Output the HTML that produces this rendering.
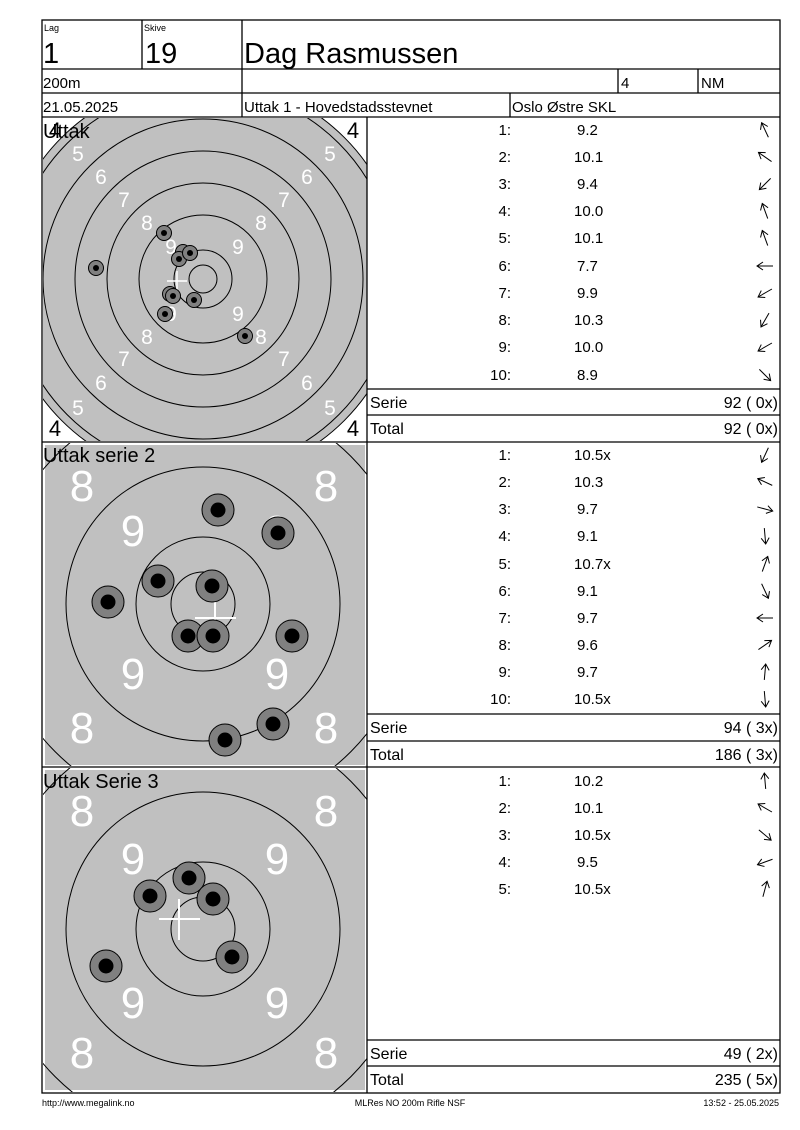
<!DOCTYPE html>
<html><head><meta charset="utf-8"><style>
html,body{margin:0;padding:0;background:#fff}
svg{display:block}
text{font-family:"Liberation Sans",Arial,sans-serif}
</style></head><body>
<svg width="800" height="1130" viewBox="0 0 800 1130" xmlns="http://www.w3.org/2000/svg">
<defs>
<clipPath id="c1"><rect x="43" y="118" width="324" height="323"/></clipPath>
<clipPath id="c2"><rect x="43" y="443" width="324" height="323"/></clipPath>
<clipPath id="c3"><rect x="43" y="768" width="324" height="324"/></clipPath>
<g id="ar"><line x1="-8" y1="0" x2="8" y2="0"/><polyline points="2,-4 8,0 2,4"/></g>
</defs>
<!-- Target 1 -->
<g clip-path="url(#c1)">
<circle cx="203" cy="279" r="200" fill="#c0c0c0" stroke="#000" stroke-width="1"/>
<g fill="none" stroke="#000" stroke-width="1">
<circle cx="203" cy="279" r="192"/><circle cx="203" cy="279" r="160"/><circle cx="203" cy="279" r="128"/>
<circle cx="203" cy="279" r="96"/><circle cx="203" cy="279" r="64"/><circle cx="203" cy="279" r="29"/><circle cx="203" cy="279" r="14"/>
</g>
<g fill="#fff" font-size="21" text-anchor="middle">
<text x="78" y="161">5</text><text x="330" y="161">5</text><text x="78" y="415">5</text><text x="330" y="415">5</text>
<text x="101" y="184">6</text><text x="307" y="184">6</text><text x="101" y="390">6</text><text x="307" y="390">6</text>
<text x="124" y="207">7</text><text x="284" y="207">7</text><text x="124" y="366">7</text><text x="284" y="366">7</text>
<text x="147" y="230">8</text><text x="261" y="230">8</text><text x="147" y="344">8</text><text x="261" y="344">8</text>
<text x="171" y="254">9</text><text x="238" y="254">9</text><text x="171" y="321">9</text><text x="238" y="321">9</text>
</g>
<g font-size="22" fill="#000" text-anchor="middle">
<text x="55" y="138">4</text><text x="353" y="138">4</text><text x="55" y="436">4</text><text x="353" y="436">4</text>
</g>
<g stroke="#fff" stroke-width="1.5"><line x1="167" y1="281" x2="187" y2="281"/><line x1="177" y1="271" x2="177" y2="291"/></g>
<g stroke="#000" stroke-width="1" fill="#808080">
<circle cx="164" cy="233" r="7.5"/><circle cx="96" cy="268" r="7.5"/><circle cx="183" cy="252" r="7.5"/><circle cx="179" cy="259" r="7.5"/><circle cx="190" cy="253" r="7.5"/>
<circle cx="170" cy="294" r="7.5"/><circle cx="173" cy="296" r="7.5"/><circle cx="194" cy="300" r="7.5"/><circle cx="165" cy="314" r="7.5"/><circle cx="245" cy="336" r="7.5"/>
</g>
<g fill="#000">
<circle cx="164" cy="233" r="3"/><circle cx="96" cy="268" r="3"/><circle cx="179" cy="259" r="3"/><circle cx="190" cy="253" r="3"/>
<circle cx="173" cy="296" r="3"/><circle cx="194" cy="300" r="3"/><circle cx="165" cy="314" r="3"/><circle cx="245" cy="336" r="3"/>
</g>
<text x="43" y="138" font-size="20" fill="#000">Uttak</text>
</g>
<!-- Target 2 -->
<g clip-path="url(#c2)">
<rect x="45" y="445" width="320" height="320" fill="#c0c0c0"/>
<g fill="none" stroke="#000" stroke-width="1">
<circle cx="203" cy="604" r="209"/><circle cx="203" cy="604" r="137"/><circle cx="203" cy="604" r="67"/><circle cx="203" cy="604" r="32"/>
</g>
<g fill="#fff" font-size="44" text-anchor="middle">
<text x="82" y="501">8</text><text x="326" y="501">8</text><text x="82" y="743">8</text><text x="326" y="743">8</text>
<text x="133" y="546">9</text><text x="277" y="546">9</text><text x="133" y="689">9</text><text x="277" y="689">9</text>
</g>
<g stroke="#fff" stroke-width="2"><line x1="195" y1="618" x2="236" y2="618"/><line x1="215" y1="598" x2="215" y2="638"/></g>
<g stroke="#000" stroke-width="1" fill="#808080">
<circle cx="218" cy="510" r="16"/><circle cx="278" cy="533" r="16"/><circle cx="158" cy="581" r="16"/><circle cx="108" cy="602" r="16"/><circle cx="212" cy="586" r="16"/>
<circle cx="188" cy="636" r="16"/><circle cx="213" cy="636" r="16"/><circle cx="292" cy="636" r="16"/><circle cx="273" cy="724" r="16"/><circle cx="225" cy="740" r="16"/>
</g>
<g fill="#000">
<circle cx="218" cy="510" r="7.5"/><circle cx="278" cy="533" r="7.5"/><circle cx="158" cy="581" r="7.5"/><circle cx="108" cy="602" r="7.5"/><circle cx="212" cy="586" r="7.5"/>
<circle cx="188" cy="636" r="7.5"/><circle cx="213" cy="636" r="7.5"/><circle cx="292" cy="636" r="7.5"/><circle cx="273" cy="724" r="7.5"/><circle cx="225" cy="740" r="7.5"/>
</g>
<text x="43" y="462" font-size="20" fill="#000">Uttak serie 2</text>
</g>
<!-- Target 3 -->
<g clip-path="url(#c3)">
<rect x="45" y="770" width="320" height="320" fill="#c0c0c0"/>
<g fill="none" stroke="#000" stroke-width="1">
<circle cx="203" cy="929" r="209"/><circle cx="203" cy="929" r="137"/><circle cx="203" cy="929" r="67"/><circle cx="203" cy="929" r="32"/>
</g>
<g fill="#fff" font-size="44" text-anchor="middle">
<text x="82" y="826">8</text><text x="326" y="826">8</text><text x="82" y="1068">8</text><text x="326" y="1068">8</text>
<text x="133" y="874">9</text><text x="277" y="874">9</text><text x="133" y="1018">9</text><text x="277" y="1018">9</text>
</g>
<g stroke="#000" stroke-width="1" fill="#808080">
<circle cx="150" cy="896" r="16"/><circle cx="189" cy="878" r="16"/><circle cx="213" cy="899" r="16"/><circle cx="232" cy="957" r="16"/><circle cx="106" cy="966" r="16"/>
</g>
<g fill="#000">
<circle cx="150" cy="896" r="7.5"/><circle cx="189" cy="878" r="7.5"/><circle cx="213" cy="899" r="7.5"/><circle cx="232" cy="957" r="7.5"/><circle cx="106" cy="966" r="7.5"/>
</g>
<g stroke="#fff" stroke-width="2"><line x1="159" y1="919" x2="200" y2="919"/><line x1="179" y1="899" x2="179" y2="940"/></g>
<text x="43" y="788" font-size="20" fill="#000">Uttak Serie 3</text>
</g>

<!-- Grid lines -->
<g stroke="#000" stroke-width="1.3" fill="none">
<rect x="42" y="20" width="738" height="1073"/>
<line x1="42" y1="69" x2="780" y2="69"/><line x1="42" y1="93" x2="780" y2="93"/><line x1="42" y1="117" x2="780" y2="117"/>
<line x1="142" y1="20" x2="142" y2="69"/><line x1="242" y1="20" x2="242" y2="117"/>
<line x1="618" y1="69" x2="618" y2="93"/><line x1="698" y1="69" x2="698" y2="93"/><line x1="510" y1="93" x2="510" y2="117"/>
<line x1="367" y1="117" x2="367" y2="1093"/>
<line x1="42" y1="442" x2="780" y2="442"/><line x1="42" y1="767" x2="780" y2="767"/>
<line x1="367" y1="389" x2="780" y2="389"/><line x1="367" y1="415" x2="780" y2="415"/>
<line x1="367" y1="714" x2="780" y2="714"/><line x1="367" y1="741" x2="780" y2="741"/>
<line x1="367" y1="1040" x2="780" y2="1040"/><line x1="367" y1="1066" x2="780" y2="1066"/>
</g>

<!-- Header -->
<g fill="#000">
<text x="44" y="31" font-size="9">Lag</text><text x="144" y="31" font-size="9">Skive</text>
<text x="43" y="63" font-size="29">1</text><text x="145" y="63" font-size="29">19</text>
<text x="244" y="63" font-size="29">Dag Rasmussen</text>
<text x="43" y="88" font-size="15">200m</text><text x="621" y="88" font-size="15">4</text><text x="701" y="88" font-size="15">NM</text>
<text x="43" y="112" font-size="15">21.05.2025</text><text x="244" y="112" font-size="15">Uttak 1 - Hovedstadsstevnet</text><text x="512" y="112" font-size="15">Oslo Østre SKL</text>
</g>

<!-- Shot lists -->
<g font-size="15" fill="#000">
<g text-anchor="end">
<text x="511" y="135">1:</text><text x="511" y="162">2:</text><text x="511" y="189">3:</text><text x="511" y="216">4:</text><text x="511" y="243">5:</text>
<text x="511" y="271">6:</text><text x="511" y="298">7:</text><text x="511" y="325">8:</text><text x="511" y="352">9:</text><text x="511" y="380">10:</text>
<text x="511" y="460">1:</text><text x="511" y="487">2:</text><text x="511" y="514">3:</text><text x="511" y="541">4:</text><text x="511" y="569">5:</text>
<text x="511" y="596">6:</text><text x="511" y="623">7:</text><text x="511" y="650">8:</text><text x="511" y="677">9:</text><text x="511" y="704">10:</text>
<text x="511" y="786">1:</text><text x="511" y="813">2:</text><text x="511" y="840">3:</text><text x="511" y="867">4:</text><text x="511" y="894">5:</text>
</g>
<text x="577" y="135">9.2</text><text x="574" y="162">10.1</text><text x="577" y="189">9.4</text><text x="574" y="216">10.0</text><text x="574" y="243">10.1</text>
<text x="577" y="271">7.7</text><text x="577" y="298">9.9</text><text x="574" y="325">10.3</text><text x="574" y="352">10.0</text><text x="577" y="380">8.9</text>
<text x="574" y="460">10.5x</text><text x="574" y="487">10.3</text><text x="577" y="514">9.7</text><text x="577" y="541">9.1</text><text x="574" y="569">10.7x</text>
<text x="577" y="596">9.1</text><text x="577" y="623">9.7</text><text x="577" y="650">9.6</text><text x="577" y="677">9.7</text><text x="574" y="704">10.5x</text>
<text x="574" y="786">10.2</text><text x="574" y="813">10.1</text><text x="574" y="840">10.5x</text><text x="577" y="867">9.5</text><text x="574" y="894">10.5x</text>
</g>
<g stroke="#000" stroke-width="1" fill="none">
<use href="#ar" transform="translate(765,130) rotate(-115)"/><use href="#ar" transform="translate(765,157) rotate(-145)"/><use href="#ar" transform="translate(765,184) rotate(135)"/><use href="#ar" transform="translate(765,211) rotate(-110)"/><use href="#ar" transform="translate(765,238) rotate(-110)"/>
<use href="#ar" transform="translate(765,266) rotate(180)"/><use href="#ar" transform="translate(765,293) rotate(150)"/><use href="#ar" transform="translate(765,320) rotate(120)"/><use href="#ar" transform="translate(765,347) rotate(150)"/><use href="#ar" transform="translate(765,375) rotate(45)"/>
<use href="#ar" transform="translate(765,455) rotate(115)"/><use href="#ar" transform="translate(765,482) rotate(-155)"/><use href="#ar" transform="translate(765,509) rotate(15)"/><use href="#ar" transform="translate(765,536) rotate(85)"/><use href="#ar" transform="translate(765,564) rotate(-70)"/>
<use href="#ar" transform="translate(765,591) rotate(65)"/><use href="#ar" transform="translate(765,618) rotate(180)"/><use href="#ar" transform="translate(765,645) rotate(-35)"/><use href="#ar" transform="translate(765,672) rotate(-85)"/><use href="#ar" transform="translate(765,699) rotate(85)"/>
<use href="#ar" transform="translate(765,781) rotate(-95)"/><use href="#ar" transform="translate(765,808) rotate(-150)"/><use href="#ar" transform="translate(765,835) rotate(40)"/><use href="#ar" transform="translate(765,862) rotate(160)"/><use href="#ar" transform="translate(765,889) rotate(-75)"/>
</g>
<g font-size="16" fill="#000">
<text x="370" y="408">Serie</text><text x="370" y="434">Total</text>
<text x="370" y="733">Serie</text><text x="370" y="760">Total</text>
<text x="370" y="1059">Serie</text><text x="370" y="1085">Total</text>
<g text-anchor="end">
<text x="778" y="408">92 ( 0x)</text><text x="778" y="434">92 ( 0x)</text>
<text x="778" y="733">94 ( 3x)</text><text x="778" y="760">186 ( 3x)</text>
<text x="778" y="1059">49 ( 2x)</text><text x="778" y="1085">235 ( 5x)</text>
</g>
</g>
<!-- Footer -->
<g font-size="9" fill="#000">
<text x="42" y="1106">http://www.megalink.no</text>
<text x="410" y="1106" text-anchor="middle">MLRes NO 200m Rifle NSF</text>
<text x="779" y="1106" text-anchor="end">13:52 - 25.05.2025</text>
</g>
</svg>
</body></html>
